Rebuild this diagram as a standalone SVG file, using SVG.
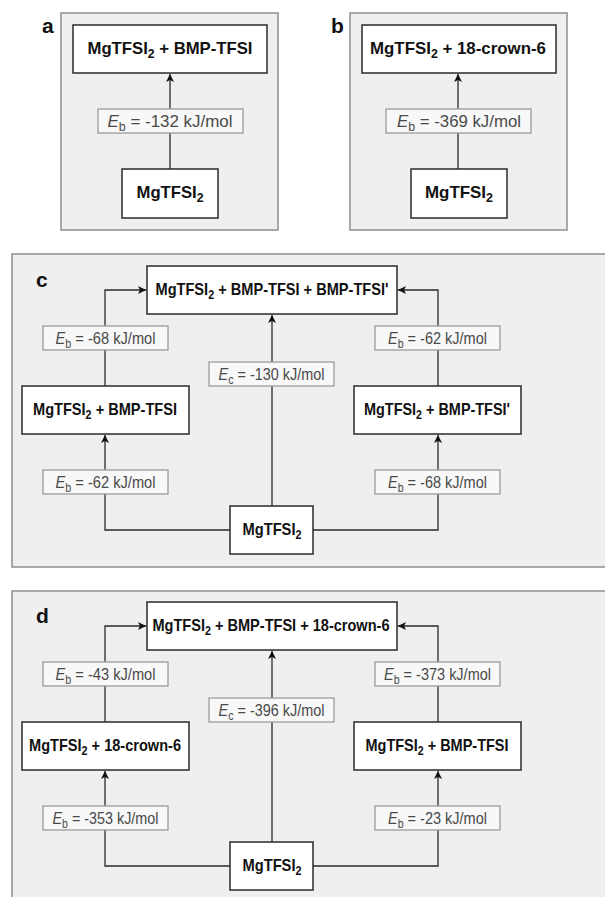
<svg xmlns="http://www.w3.org/2000/svg" width="605" height="897" viewBox="0 0 605 897">
<defs>
<marker id="ah" viewBox="0 0 10 10" refX="10" refY="5" markerWidth="8" markerHeight="8" markerUnits="userSpaceOnUse" orient="auto">
<path d="M0,0 L10,5 L0,10 L2.5,5 Z" fill="#111"/>
</marker>
<style>
.panel{fill:#efefef;stroke:#8f8f8f;stroke-width:1.5}
.box{fill:#fff;stroke:#2a2a2a;stroke-width:1.5}
.lbox{fill:#f8f8f8;stroke:#9a9a9a;stroke-width:1.3}
.ca{fill:none;stroke:#2a2a2a;stroke-width:1.3;marker-end:url(#ah)}
.n{font-family:"Liberation Sans",Arial,sans-serif;font-weight:bold;font-size:17px;fill:#111;text-anchor:middle}
.l{font-family:"Liberation Sans",Arial,sans-serif;font-size:17px;fill:#4a4a4a;text-anchor:middle}
.p{font-family:"Liberation Sans",Arial,sans-serif;font-weight:bold;font-size:21px;fill:#111}
.s{font-size:12.5px}
</style>
</defs>
<rect width="605" height="897" fill="#fff"/>
<g id="panels">
<rect class="panel" x="61" y="13" width="217" height="217"/>
<rect class="panel" x="350" y="13" width="217" height="217"/>
<rect class="panel" x="12" y="254" width="610" height="313"/>
<rect class="panel" x="12" y="591" width="610" height="320"/>
<text class="p" x="42" y="33">a</text>
<text class="p" x="331" y="33">b</text>
<text class="p" x="36" y="287">c</text>
<text class="p" x="36" y="623">d</text>
</g>
<g id="connectors">
<line class="ca" x1="170" y1="169" x2="170" y2="74"/>
<line class="ca" x1="458" y1="169" x2="458" y2="74"/>
<polyline class="ca" points="230,530 105,530 105,435"/>
<polyline class="ca" points="313,530 438,530 438,435"/>
<line class="ca" x1="272" y1="506" x2="272" y2="315"/>
<polyline class="ca" points="105,386 105,290 146,290"/>
<polyline class="ca" points="438,386 438,290 398,290"/>
<polyline class="ca" points="230,866 105,866 105,771"/>
<polyline class="ca" points="313,866 438,866 438,771"/>
<line class="ca" x1="272" y1="842" x2="272" y2="651"/>
<polyline class="ca" points="105,722 105,626 146,626"/>
<polyline class="ca" points="438,722 438,626 398,626"/>
<g id="labels">
<rect class="lbox" x="98" y="109" width="145" height="24"/>
<text class="l" x="170" y="127" textLength="125" lengthAdjust="spacingAndGlyphs"><tspan font-style="italic">E</tspan><tspan class="s" dy="4">b</tspan><tspan dy="-4"> = -132 kJ/mol</tspan></text>
<rect class="lbox" x="386" y="109" width="145" height="24"/>
<text class="l" x="459" y="127" textLength="124" lengthAdjust="spacingAndGlyphs"><tspan font-style="italic">E</tspan><tspan class="s" dy="4">b</tspan><tspan dy="-4"> = -369 kJ/mol</tspan></text>

<rect class="lbox" x="43" y="326" width="125" height="24"/>
<text class="l" x="105.5" y="344" textLength="100" lengthAdjust="spacingAndGlyphs"><tspan font-style="italic">E</tspan><tspan class="s" dy="4">b</tspan><tspan dy="-4"> = -68 kJ/mol</tspan></text>
<rect class="lbox" x="375" y="326" width="125" height="24"/>
<text class="l" x="437.5" y="344" textLength="99" lengthAdjust="spacingAndGlyphs"><tspan font-style="italic">E</tspan><tspan class="s" dy="4">b</tspan><tspan dy="-4"> = -62 kJ/mol</tspan></text>
<rect class="lbox" x="209" y="362" width="125" height="24"/>
<text class="l" x="271.5" y="380" textLength="106" lengthAdjust="spacingAndGlyphs"><tspan font-style="italic">E</tspan><tspan class="s" dy="4">c</tspan><tspan dy="-4"> = -130 kJ/mol</tspan></text>
<rect class="lbox" x="43" y="470" width="125" height="24"/>
<text class="l" x="105.5" y="488" textLength="100" lengthAdjust="spacingAndGlyphs"><tspan font-style="italic">E</tspan><tspan class="s" dy="4">b</tspan><tspan dy="-4"> = -62 kJ/mol</tspan></text>
<rect class="lbox" x="375" y="470" width="125" height="24"/>
<text class="l" x="437.5" y="488" textLength="99" lengthAdjust="spacingAndGlyphs"><tspan font-style="italic">E</tspan><tspan class="s" dy="4">b</tspan><tspan dy="-4"> = -68 kJ/mol</tspan></text>

<rect class="lbox" x="43" y="662" width="125" height="24"/>
<text class="l" x="105.5" y="680" textLength="100" lengthAdjust="spacingAndGlyphs"><tspan font-style="italic">E</tspan><tspan class="s" dy="4">b</tspan><tspan dy="-4"> = -43 kJ/mol</tspan></text>
<rect class="lbox" x="375" y="662" width="125" height="24"/>
<text class="l" x="437.5" y="680" textLength="107" lengthAdjust="spacingAndGlyphs"><tspan font-style="italic">E</tspan><tspan class="s" dy="4">b</tspan><tspan dy="-4"> = -373 kJ/mol</tspan></text>
<rect class="lbox" x="209" y="698" width="125" height="24"/>
<text class="l" x="271.5" y="716" textLength="106" lengthAdjust="spacingAndGlyphs"><tspan font-style="italic">E</tspan><tspan class="s" dy="4">c</tspan><tspan dy="-4"> = -396 kJ/mol</tspan></text>
<rect class="lbox" x="43" y="806" width="125" height="24"/>
<text class="l" x="105.5" y="824" textLength="106" lengthAdjust="spacingAndGlyphs"><tspan font-style="italic">E</tspan><tspan class="s" dy="4">b</tspan><tspan dy="-4"> = -353 kJ/mol</tspan></text>
<rect class="lbox" x="375" y="806" width="125" height="24"/>
<text class="l" x="437.5" y="824" textLength="99" lengthAdjust="spacingAndGlyphs"><tspan font-style="italic">E</tspan><tspan class="s" dy="4">b</tspan><tspan dy="-4"> = -23 kJ/mol</tspan></text>
</g>
</g>
<g id="a-top"><rect class="box" x="73" y="25" width="194" height="48"/>
<text class="n" x="170" y="54" textLength="165" lengthAdjust="spacingAndGlyphs">MgTFSI<tspan class="s" dy="4">2</tspan><tspan dy="-4"> + BMP-TFSI</tspan></text></g>
<g id="a-bottom"><rect class="box" x="122" y="169" width="96" height="49"/>
<text class="n" x="170" y="198" textLength="67" lengthAdjust="spacingAndGlyphs">MgTFSI<tspan class="s" dy="4">2</tspan></text></g>
<g id="b-top"><rect class="box" x="362" y="25" width="194" height="48"/>
<text class="n" x="458" y="54" textLength="176" lengthAdjust="spacingAndGlyphs">MgTFSI<tspan class="s" dy="4">2</tspan><tspan dy="-4"> + 18-crown-6</tspan></text></g>
<g id="b-bottom"><rect class="box" x="411" y="169" width="96" height="49"/>
<text class="n" x="459" y="198" textLength="68" lengthAdjust="spacingAndGlyphs">MgTFSI<tspan class="s" dy="4">2</tspan></text></g>

<g id="c-top"><rect class="box" x="147" y="266" width="250" height="48"/>
<text class="n" x="272" y="295" textLength="233" lengthAdjust="spacingAndGlyphs">MgTFSI<tspan class="s" dy="4">2</tspan><tspan dy="-4"> + BMP-TFSI + BMP-TFSI'</tspan></text></g>
<g id="c-left"><rect class="box" x="22" y="386" width="167" height="48"/>
<text class="n" x="105" y="414.5" textLength="144" lengthAdjust="spacingAndGlyphs">MgTFSI<tspan class="s" dy="4">2</tspan><tspan dy="-4"> + BMP-TFSI</tspan></text></g>
<g id="c-right"><rect class="box" x="354" y="386" width="167" height="48"/>
<text class="n" x="437" y="414.5" textLength="146" lengthAdjust="spacingAndGlyphs">MgTFSI<tspan class="s" dy="4">2</tspan><tspan dy="-4"> + BMP-TFSI'</tspan></text></g>
<g id="c-bottom"><rect class="box" x="230" y="506" width="83" height="48"/>
<text class="n" x="272" y="535" textLength="59" lengthAdjust="spacingAndGlyphs">MgTFSI<tspan class="s" dy="4">2</tspan></text></g>

<g id="d-top"><rect class="box" x="147" y="602" width="250" height="48"/>
<text class="n" x="271" y="631" textLength="237" lengthAdjust="spacingAndGlyphs">MgTFSI<tspan class="s" dy="4">2</tspan><tspan dy="-4"> + BMP-TFSI + 18-crown-6</tspan></text></g>
<g id="d-left"><rect class="box" x="22" y="722" width="167" height="48"/>
<text class="n" x="105" y="750.5" textLength="152" lengthAdjust="spacingAndGlyphs">MgTFSI<tspan class="s" dy="4">2</tspan><tspan dy="-4"> + 18-crown-6</tspan></text></g>
<g id="d-right"><rect class="box" x="354" y="722" width="167" height="48"/>
<text class="n" x="437" y="750.5" textLength="143" lengthAdjust="spacingAndGlyphs">MgTFSI<tspan class="s" dy="4">2</tspan><tspan dy="-4"> + BMP-TFSI</tspan></text></g>
<g id="d-bottom"><rect class="box" x="230" y="842" width="83" height="48"/>
<text class="n" x="272" y="871" textLength="59" lengthAdjust="spacingAndGlyphs">MgTFSI<tspan class="s" dy="4">2</tspan></text></g>
</svg>
